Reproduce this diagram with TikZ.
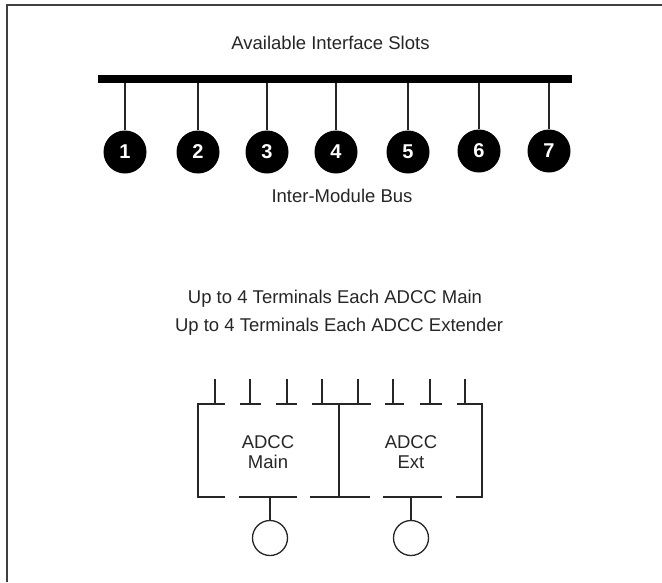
\documentclass[tikz,border=0pt]{standalone}
\usepackage{fontspec}
\setmainfont{Liberation Sans}
\usetikzlibrary{positioning,calc}

\tikzset{
  label text/.style={font=\fontsize{18.5}{19.5}\selectfont, align=center, text=black!85},
  slot/.style={circle, fill=black, text=white, minimum size=43pt, inner sep=0pt, font=\bfseries\fontsize{20}{24}\selectfont},
  term/.style={circle, draw=black!85, line width=1.3pt, fill=white, minimum size=35pt, inner sep=0pt},
  wire/.style={draw=black!85, line width=1.3pt}
}

\begin{document}
\begin{tikzpicture}[x=1pt,y=-1pt]
\useasboundingbox (0,0) rectangle (662,582);

% outer rule, open on the right
\draw[draw=black!75, line width=1.3pt] (7,582) -- (7,5) -- (662,5);

\node[label text] (slots) at (330.5,43) {Available Interface Slots};
\node[label text] (imb) at (342,196) {Inter-Module Bus};

\node[fill=black, minimum width=474pt, minimum height=8pt, inner sep=0pt] (bus) at (335,79) { };

\node[slot] (s1) at (125,152) {1};
\node[slot] (s2) at (198,152) {2};
\node[slot] (s3) at (267,152) {3};
\node[slot] (s4) at (336,152) {4};
\node[slot] (s5) at (408,152) {5};
\node[slot] (s6) at (479,151) {6};
\node[slot] (s7) at (549,151) {7};

\foreach \i in {1,...,7}
  \draw[wire] (bus.south -| s\i) -- (s\i.north);

\node[label text] (up1) at (335,299) {Up to 4 Terminals Each ADCC Main};
\node[label text] (up2) at (339,327) {Up to 4 Terminals Each ADCC Extender};

\node[label text] (main) at (268,452) {ADCC\\Main};
\node[label text] (ext) at (411,452) {ADCC\\Ext};

\node[term] (c1) at (270,538) { };
\node[term] (c2) at (411,538) { };

% terminals along the top
\foreach \x [count=\i] in {215,250,287,322,358,393,430,465} {
  \coordinate (t\i) at (\x,379);
  \draw[wire] (t\i) -- (\x,404);
}

% box sides and centre
\coordinate (tl) at (198,404);
\coordinate (bl) at (198,497);
\coordinate (tr) at (482,404);
\coordinate (br) at (482,497);
\coordinate (tm) at (339,404);
\coordinate (bm) at (339,497);
\draw[wire] (225,404) -- (tl) -- (bl) -- (225,497);
\draw[wire] (457,404) -- (tr) -- (br) -- (456,497);
\draw[wire] (tm) -- (bm);

% dashes of the top and bottom edges
\foreach \a/\b in {240/261,276/297,312/371,385/404,420/442}
  \draw[wire] (\a,404) -- (\b,404);
\foreach \a/\b in {239/297,310/370,383/442}
  \draw[wire] (\a,497) -- (\b,497);

\draw[wire] (c1.north |- bm) -- (c1.north);
\draw[wire] (c2.north |- bm) -- (c2.north);

\end{tikzpicture}
\end{document}
